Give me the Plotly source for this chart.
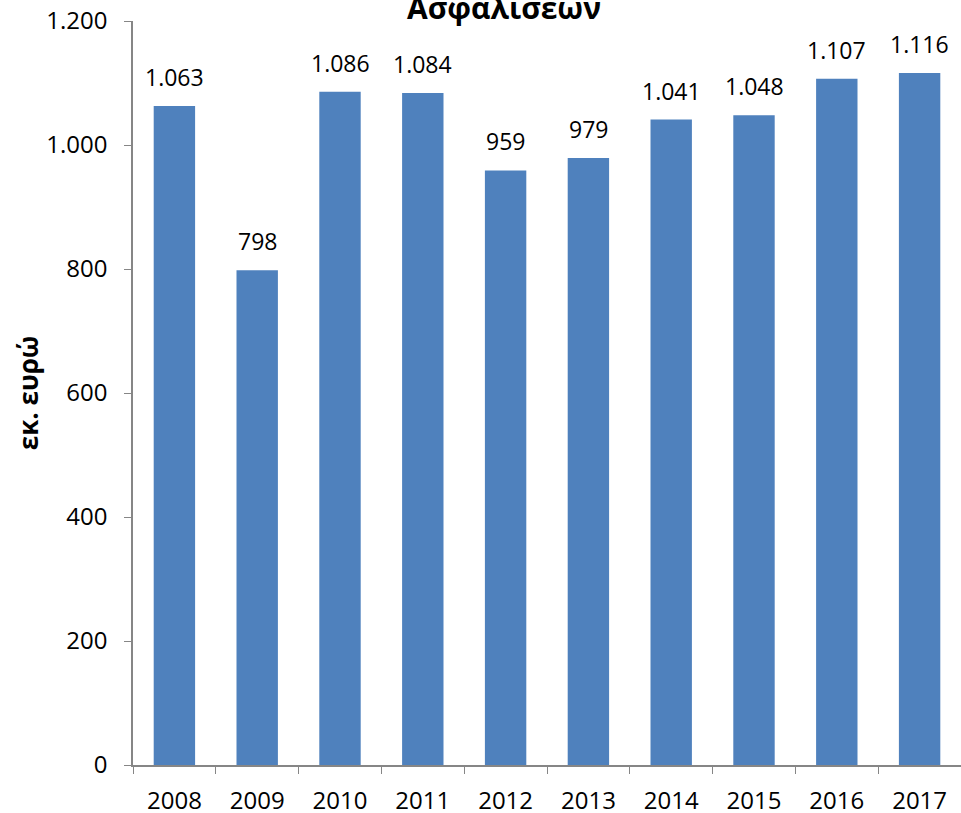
import plotly.graph_objects as go

years = ['2008', '2009', '2010', '2011', '2012', '2013', '2014', '2015', '2016', '2017']
values = [1063, 798, 1086, 1084, 959, 979, 1041, 1048, 1107, 1116]
y_ticks = [0, 200, 400, 600, 800, 1000, 1200]

FONT = 'Open Sans'

fig = go.Figure(go.Bar(
    x=years,
    y=values,
    marker=dict(color='#4F81BD', line=dict(width=0)),
))

# value labels above the bars (dot as thousands separator)
# x given as category index, plotly reads '2008' as an index otherwise
labels = [dict(x=i, y=v, text=f'{v:,}'.replace(',', '.'), showarrow=False,
               yanchor='bottom', yshift=11,
               font=dict(family=FONT, size=23, color='black'))
          for i, v in enumerate(values)]

# title is cut off at the top in the original, only the last word shows
labels.append(dict(
    text='<b>Ασφαλίσεων</b>', x=0.448, y=1, xref='paper', yref='paper',
    xanchor='center', yanchor='bottom', yshift=-9, showarrow=False,
    font=dict(family=FONT, size=30, color='black'),
))

fig.update_layout(
    width=961, height=813,
    margin=dict(l=133, r=0, t=21, b=48),
    plot_bgcolor='white', paper_bgcolor='white',
    bargap=0.5,
    separators=',.',
    showlegend=False,
    font=dict(family=FONT, color='black'),
    annotations=labels,
)

fig.update_xaxes(
    type='category', showgrid=False, automargin=False,
    showline=True, linecolor='#868686', linewidth=1.5,
    ticks='outside', tickson='boundaries', ticklen=7, tickcolor='#868686',
    tickfont=dict(family=FONT, size=24), ticklabelstandoff=13,
)
fig.update_yaxes(
    range=[0, 1200], tickvals=y_ticks, tickformat=',d', showgrid=False, zeroline=False,
    showline=True, linecolor='#868686', linewidth=1.5,
    ticks='outside', ticklen=7, tickcolor='#868686',
    tickfont=dict(family=FONT, size=24), ticklabelstandoff=12,
    title=dict(text='<b>εκ. ευρώ</b>', font=dict(family=FONT, size=26), standoff=0),
)

fig.write_html('out.html', config={'displayModeBar': False},
               post_script="document.body.style.margin='0';")
